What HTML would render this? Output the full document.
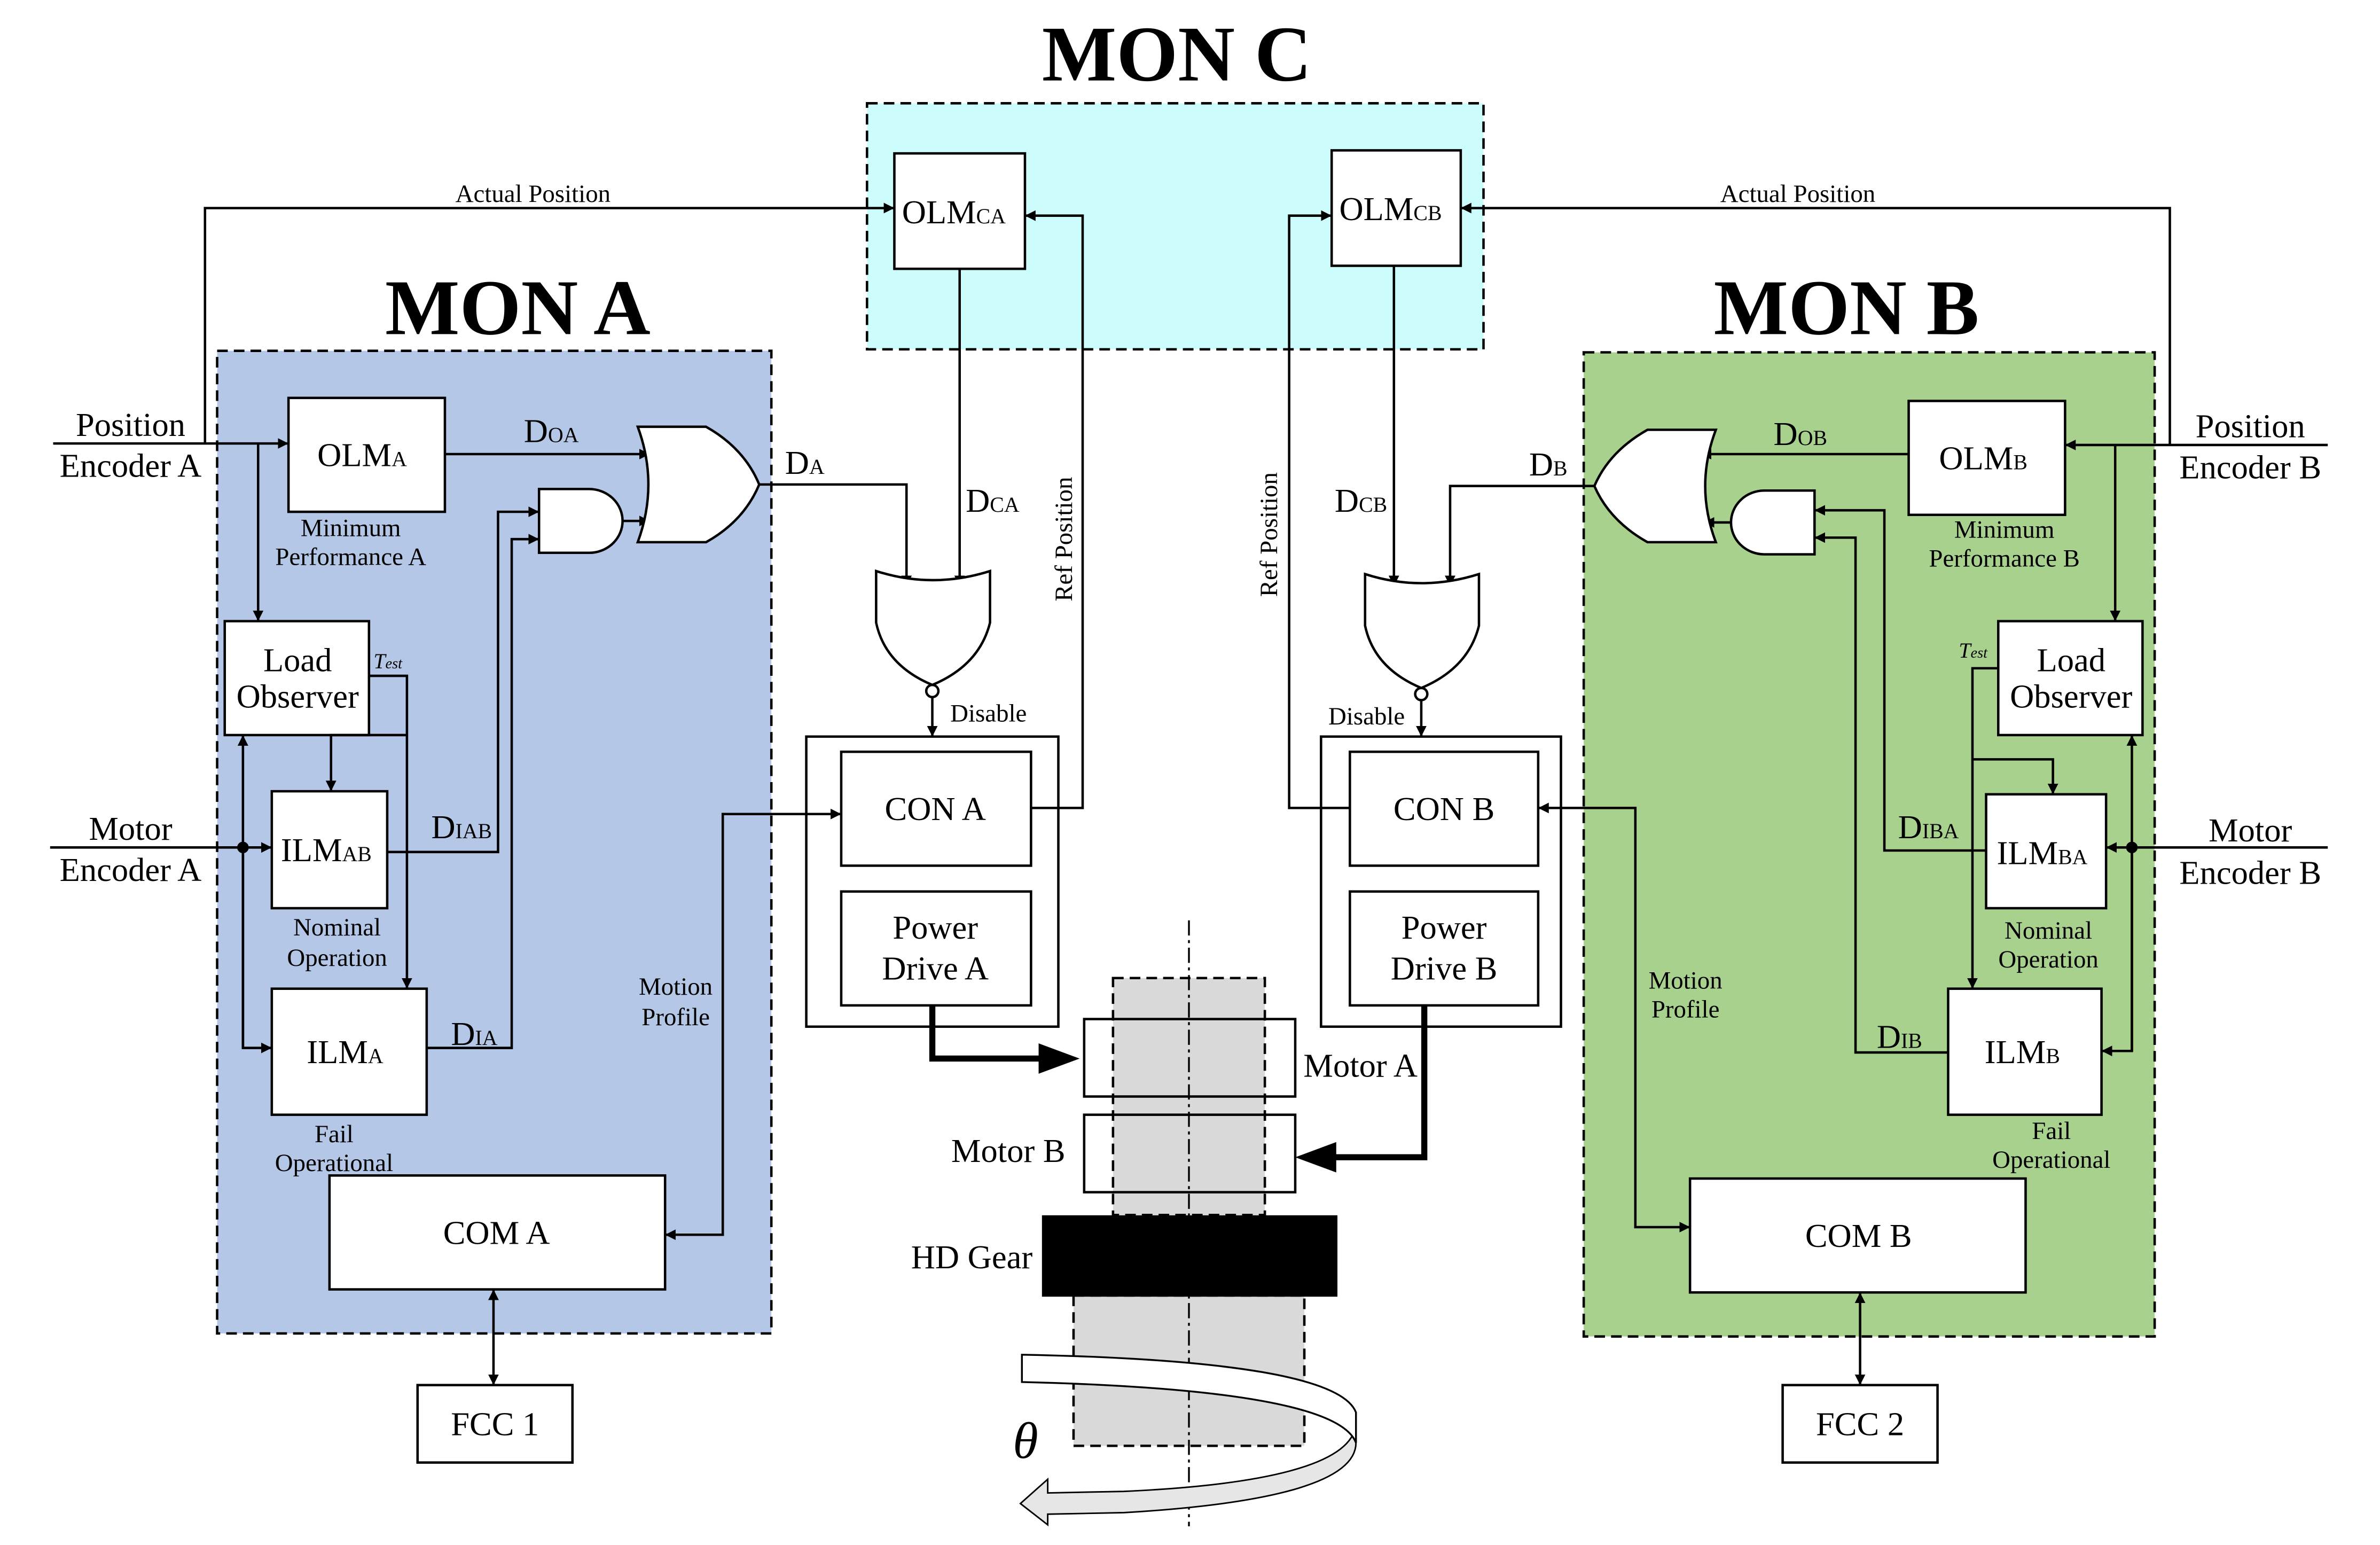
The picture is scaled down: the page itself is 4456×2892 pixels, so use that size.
<!DOCTYPE html>
<html><head><meta charset="utf-8"><style>
html,body{margin:0;padding:0;background:#fff}
svg{display:block}
text{font-family:"Liberation Serif",serif;fill:#000}
</style></head><body>
<svg width="4456" height="2892" viewBox="0 0 1567.4 1017.3" preserveAspectRatio="none" xmlns="http://www.w3.org/2000/svg">
<defs>
<marker id="a" viewBox="0 0 10 10" refX="10" refY="5" markerWidth="7" markerHeight="7" markerUnits="userSpaceOnUse" orient="auto-start-reverse"><path d="M0,0 L10,5 L0,10 z" fill="#000"/></marker>
</defs>
<g stroke="#000" stroke-width="1.6" fill="none">
<rect x="571" y="68" width="406" height="162" fill="#ccfcfc" stroke-dasharray="7,4"/>
<rect x="143" y="231" width="365" height="647" fill="#b4c7e7" stroke-dasharray="7,4"/>
<rect x="1043" y="232" width="376" height="648" fill="#a9d18e" stroke-dasharray="7,4"/>
<rect x="589" y="101" width="86" height="76" fill="#fff"/>
<rect x="877" y="99" width="85" height="76" fill="#fff"/>
<path d="M135,292 V137 H589" marker-end="url(#a)"/>
<path d="M1429,293 V137 H962" marker-end="url(#a)"/>
<rect x="190" y="262" width="103" height="75" fill="#fff"/>
<rect x="148" y="409" width="95" height="75" fill="#fff"/>
<rect x="179" y="521" width="76" height="77" fill="#fff"/>
<rect x="179" y="651" width="102" height="83" fill="#fff"/>
<rect x="217" y="774" width="221" height="75" fill="#fff"/>
<rect x="275" y="912" width="102" height="51" fill="#fff"/>
<path d="M35,292 H190" marker-end="url(#a)"/>
<path d="M170,292 V409" marker-end="url(#a)"/>
<path d="M243,445 H268 V651" marker-end="url(#a)"/>
<path d="M268,484 H218 V521" marker-end="url(#a)"/>
<path d="M33,558 H179" marker-end="url(#a)"/>
<path d="M160,690 V484" marker-end="url(#a)"/>
<path d="M160,558 V690 H179" marker-end="url(#a)"/>
<circle cx="160" cy="558" r="3" fill="#000"/>
<path d="M255,561 H328 V337 H355" marker-end="url(#a)"/>
<path d="M281,690 H337 V355 H355" marker-end="url(#a)"/>
<path d="M293,299 H428" marker-end="url(#a)"/>
<path d="M410,343 H428" marker-end="url(#a)"/>
<path d="M355,322 H388 A22,21 0 0 1 388,364 H355 Z" fill="#fff"/>
<path d="M420,281 H465 Q490,295 500,319 Q490,343 465,357 H420 Q434,319 420,281 Z" fill="#fff"/>
<path d="M500,319 H597 V386" marker-end="url(#a)"/>
<path d="M632,177 V386" marker-end="url(#a)"/>
<path d="M325,849 V912" marker-end="url(#a)" marker-start="url(#a)"/>
<path d="M577,376 Q614,388 652,376 V410 Q645,438 614,451 Q583,438 577,410 Z" fill="#fff"/>
<circle cx="614" cy="455" r="4" fill="#fff"/>
<path d="M614,459 V485" marker-end="url(#a)"/>
<rect x="531" y="485" width="166" height="191" fill="#fff"/>
<rect x="554" y="495" width="125" height="75" fill="#fff"/>
<rect x="554" y="587" width="125" height="75" fill="#fff"/>
<path d="M679,532 H713 V142 H675" marker-end="url(#a)"/>
<path d="M438,813 H476 V536 H554" marker-end="url(#a)" marker-start="url(#a)"/>
<rect x="1257" y="264" width="103" height="75" fill="#fff"/>
<rect x="1316" y="409" width="95" height="75" fill="#fff"/>
<rect x="1308" y="523" width="79" height="75" fill="#fff"/>
<rect x="1283" y="651" width="101" height="83" fill="#fff"/>
<rect x="1113" y="776" width="221" height="75" fill="#fff"/>
<rect x="1174" y="912" width="102" height="51" fill="#fff"/>
<path d="M1533,293 H1360" marker-end="url(#a)"/>
<path d="M1393,293 V409" marker-end="url(#a)"/>
<path d="M1316,440 H1299 V651" marker-end="url(#a)"/>
<path d="M1299,500 H1352 V523" marker-end="url(#a)"/>
<path d="M1533,558 H1387" marker-end="url(#a)"/>
<path d="M1404,692 V484" marker-end="url(#a)"/>
<path d="M1404,558 V692 H1384" marker-end="url(#a)"/>
<circle cx="1404" cy="558" r="3" fill="#000"/>
<path d="M1308,560 H1241 V336 H1195" marker-end="url(#a)"/>
<path d="M1283,693 H1222 V354 H1195" marker-end="url(#a)"/>
<path d="M1257,299 H1120" marker-end="url(#a)"/>
<path d="M1140,344 H1122" marker-end="url(#a)"/>
<path d="M1195,323 H1162 A22,21 0 0 0 1162,365 H1195 Z" fill="#fff"/>
<path d="M1130,283 H1085 Q1060,297 1050,320 Q1060,343 1085,357 H1130 Q1116,320 1130,283 Z" fill="#fff"/>
<path d="M1050,320 H955 V386" marker-end="url(#a)"/>
<path d="M918,175 V386" marker-end="url(#a)"/>
<path d="M1225,851 V912" marker-end="url(#a)" marker-start="url(#a)"/>
<path d="M899,378 Q936,390 974,378 V412 Q967,440 936,453 Q905,440 899,412 Z" fill="#fff"/>
<circle cx="936" cy="457" r="4" fill="#fff"/>
<path d="M936,461 V485" marker-end="url(#a)"/>
<rect x="870" y="485" width="158" height="191" fill="#fff"/>
<rect x="889" y="495" width="124" height="75" fill="#fff"/>
<rect x="889" y="587" width="124" height="75" fill="#fff"/>
<path d="M889,532 H849 V142 H877" marker-end="url(#a)"/>
<path d="M1113,808 H1077 V532 H1013" marker-end="url(#a)" marker-start="url(#a)"/>
<rect x="733" y="644" width="100" height="156" fill="#d9d9d9" stroke-dasharray="7,4"/>
<rect x="707" y="853" width="152" height="99" fill="#d9d9d9" stroke-dasharray="7,4"/>
<rect x="714" y="671" width="139" height="51" fill="none"/>
<rect x="714" y="734" width="139" height="51" fill="none"/>
<rect x="687" y="801" width="193" height="52" fill="#000"/>
<path d="M783,606 V1005" stroke-width="1.2" stroke-dasharray="10,3,2,3"/>
<path d="M614,662 V697 H700" stroke-width="4"/>
<path d="M938,662 V762 H866" stroke-width="4"/>
<path d="M711,697 L684,687 V707 Z" fill="#000" stroke="none"/>
<path d="M853,762 L880,752 V772 Z" fill="#000" stroke="none"/>
<path d="M893,935 Q895,975 740,982 L690,983 V974 L672,990 L690,1004 V997 L740,996 Q893,987 893,950 Z" fill="#e6e6e6" stroke-width="1"/>
<path d="M673,892 Q880,896 893,930 V950 Q880,915 673,910 Z" fill="#fff" stroke-width="1.2"/>
</g>
<g font-weight="bold" font-size="52" text-anchor="middle">
<text x="775" y="53">MON C</text>
<text x="341" y="220">MON A</text>
<text x="1216" y="220">MON B</text>
</g>
<g font-size="16.5" text-anchor="middle">
<text x="351" y="133">Actual Position</text>
<text x="1184" y="133">Actual Position</text>
<text x="231" y="353">Minimum</text><text x="231" y="372">Performance A</text>
<text x="222" y="616">Nominal</text><text x="222" y="636">Operation</text>
<text x="220" y="752">Fail</text><text x="220" y="771">Operational</text>
<text x="445" y="655">Motion</text><text x="445" y="675">Profile</text>
<text x="651" y="475">Disable</text>
<text x="900" y="477">Disable</text>
<text x="1320" y="354">Minimum</text><text x="1320" y="373">Performance B</text>
<text x="1349" y="618">Nominal</text><text x="1349" y="637">Operation</text>
<text x="1351" y="750">Fail</text><text x="1351" y="769">Operational</text>
<text x="1110" y="651">Motion</text><text x="1110" y="670">Profile</text>
<text transform="translate(706,355) rotate(-90)">Ref Position</text>
<text transform="translate(841,352) rotate(-90)">Ref Position</text>
</g>
<g font-size="22" text-anchor="middle">
<text x="86" y="287">Position</text><text x="86" y="314">Encoder A</text>
<text x="86" y="553">Motor</text><text x="86" y="580">Encoder A</text>
<text x="1482" y="288">Position</text><text x="1482" y="315">Encoder B</text>
<text x="1482" y="554">Motor</text><text x="1482" y="582">Encoder B</text>
<text x="196" y="442">Load</text><text x="196" y="466">Observer</text>
<text x="1364" y="442">Load</text><text x="1364" y="466">Observer</text>
<text x="327" y="819">COM A</text>
<text x="1224" y="821">COM B</text>
<text x="326" y="945">FCC 1</text>
<text x="1225" y="945">FCC 2</text>
<text x="616" y="540">CON A</text>
<text x="951" y="540">CON B</text>
<text x="616" y="618">Power</text><text x="616" y="645">Drive A</text>
<text x="951" y="618">Power</text><text x="951" y="645">Drive B</text>
<text x="896" y="709">Motor A</text>
<text x="664" y="765">Motor B</text>
<text x="640" y="835">HD Gear</text>
</g>
<g font-size="22">
<text x="594" y="147">OLM<tspan font-size="14">CA</tspan></text>
<text x="882" y="145">OLM<tspan font-size="14">CB</tspan></text>
<text x="209" y="307">OLM<tspan font-size="14">A</tspan></text>
<text x="1277" y="309">OLM<tspan font-size="14">B</tspan></text>
<text x="185" y="567">ILM<tspan font-size="14">AB</tspan></text>
<text x="1315" y="569">ILM<tspan font-size="14">BA</tspan></text>
<text x="202" y="700">ILM<tspan font-size="14">A</tspan></text>
<text x="1307" y="700">ILM<tspan font-size="14">B</tspan></text>
<text x="345" y="291">D<tspan font-size="14">OA</tspan></text>
<text x="517" y="312">D<tspan font-size="14">A</tspan></text>
<text x="636" y="337">D<tspan font-size="14">CA</tspan></text>
<text x="284" y="552">D<tspan font-size="14">IAB</tspan></text>
<text x="297" y="688">D<tspan font-size="14">IA</tspan></text>
<text x="1168" y="293">D<tspan font-size="14">OB</tspan></text>
<text x="1007" y="313">D<tspan font-size="14">B</tspan></text>
<text x="879" y="337">D<tspan font-size="14">CB</tspan></text>
<text x="1250" y="552">D<tspan font-size="14">IBA</tspan></text>
<text x="1236" y="690">D<tspan font-size="14">IB</tspan></text>
<text x="246" y="440" font-style="italic" font-size="14">T<tspan font-size="10">est</tspan></text>
<text x="1290" y="433" font-style="italic" font-size="14">T<tspan font-size="10">est</tspan></text>
<text x="667" y="960" font-style="italic" font-size="34">θ</text>
</g>
</svg>
</body></html>
